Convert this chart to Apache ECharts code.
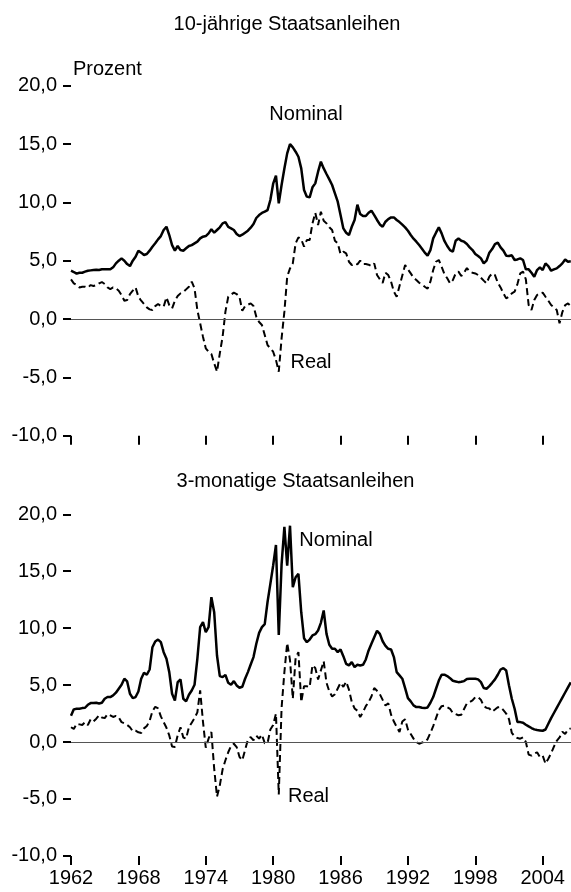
<!DOCTYPE html>
<html>
<head>
<meta charset="utf-8">
<script src="https://cdn.jsdelivr.net/npm/echarts@6/dist/echarts.min.js"></script>
<style>
  html, body { margin: 0; padding: 0; background: #fff; }
  #chart { width: 571px; height: 892px; }
</style>
</head>
<body>
<div id="chart"></div>
<script>
// quarterly samples, first one at 1962.0
const startYear = 1962
const tickYears = [1962, 1968, 1974, 1980, 1986, 1992, 1998, 2004]

// 10-jährige Staatsanleihen, nominal
const nominal10 = [
  4.14, 4.03, 3.89, 3.97,  3.97, 4.06, 4.14, 4.17,  4.2, 4.23, 4.2, 4.26,  4.26, 4.26, 4.26, 4.43,
  4.77, 5.0, 5.2, 5.0,  4.71, 4.54, 5.0, 5.34,  5.86, 5.69, 5.49, 5.57,  5.86, 6.2, 6.49, 6.83,
  7.11, 7.63, 7.91, 7.2,  6.34, 5.86, 6.26, 5.91,  5.86, 6.06, 6.26, 6.34,  6.49, 6.63, 6.91, 7.06,
  7.11, 7.34, 7.69, 7.4,  7.63, 7.86, 8.2, 8.3,  7.89, 7.77, 7.63, 7.29,  7.11, 7.23, 7.4, 7.57,
  7.83, 8.14, 8.66, 8.91,  9.09, 9.2, 9.34, 10.2,  11.6, 12.3, 9.91, 11.49,  12.91, 14.2, 15.0, 14.71,
  14.34, 13.91, 12.91, 11.06,  10.49, 10.43, 11.29, 11.63,  12.63, 13.49, 12.91, 12.43,  11.97, 11.49, 10.77, 10.06,
  8.91, 7.77, 7.4, 7.2,  7.91, 8.49, 9.8, 9.0,  8.83, 8.83, 9.11, 9.29,  8.91, 8.49, 8.11, 7.91,
  8.34, 8.57, 8.71, 8.71,  8.49, 8.31, 8.09, 7.86,  7.57, 7.2, 6.89, 6.63,  6.34, 6.03, 5.69, 5.43,
  5.91, 6.91, 7.4, 7.86,  7.34, 6.69, 6.26, 5.91,  5.77, 6.71, 6.91, 6.71,  6.63, 6.43, 6.14, 5.91,
  5.57, 5.4, 5.2, 4.77,  5.0, 5.69, 6.0, 6.43,  6.55, 6.14, 5.86, 5.43,  5.4, 5.46, 5.06, 5.11,
  5.2, 5.06, 4.26, 4.26,  3.97, 3.63, 4.2, 4.43,  4.2, 4.77, 4.54, 4.14,  4.26, 4.34, 4.54, 4.77,
  5.11, 4.91, 4.95
]

// 10-jährige Staatsanleihen, real
const real10 = [
  3.4, 3.06, 2.91, 2.71,  2.77, 2.77, 2.69, 2.91,  2.83, 2.91, 3.06, 3.17,  3.0, 2.71, 2.57, 2.71,
  2.63, 2.43, 2.06, 1.57,  1.63, 2.14, 2.43, 2.71,  1.91, 1.57, 1.29, 1.0,  0.83, 0.77, 1.11, 1.29,
  1.11, 1.06, 1.86, 1.2,  0.91, 1.57, 1.97, 2.2,  2.31, 2.54, 2.77, 3.2,  2.63, 0.77, -0.37, -1.51,
  -2.51, -2.8, -3.0, -3.8,  -4.51, -2.94, -1.51, 0.63,  1.91, 2.09, 2.26, 2.14,  1.91, 0.71, 1.11, 1.23,
  1.34, 1.11, 0.2, -0.26,  -0.51, -1.37, -2.23, -2.51,  -2.8, -3.51, -4.51, -1.66,  0.63, 3.63, 4.34, 4.77,
  6.49, 7.0, 6.83, 6.2,  6.77, 6.77, 8.2, 9.11,  8.06, 9.2, 8.43, 8.2,  7.86, 7.63, 6.71, 6.49,
  5.57, 5.77, 5.63, 4.91,  4.63, 4.77, 4.69, 5.0,  4.71, 4.71, 4.66, 4.54,  4.77, 3.77, 3.4, 3.1,
  3.97, 3.77, 3.2, 2.34,  1.91, 2.83, 3.74, 4.63,  4.26, 3.91, 3.54, 3.34,  3.11, 2.97, 2.77, 2.6,
  3.2, 4.2, 4.91, 5.06,  4.49, 3.86, 3.49, 3.06,  3.34, 3.91, 4.06, 3.69,  3.97, 4.37, 4.06, 3.97,
  3.91, 3.77, 3.54, 3.29,  3.06, 3.63, 3.91, 3.77,  3.11, 2.71, 2.2, 1.77,  1.91, 2.2, 2.34, 3.0,
  3.91, 4.06, 3.4, 1.2,  0.77, 1.63, 2.06, 2.2,  2.26, 1.91, 1.57, 1.2,  1.0, 0.77, -0.37, 0.6,
  1.2, 1.34, 1.1
]

// 3-monatige Staatsanleihen, nominal
const nominal3m = [
  2.3, 2.87, 2.92, 2.92,  2.98, 3.01, 3.27, 3.42,  3.42, 3.45, 3.39, 3.45,  3.8, 3.95, 3.95, 4.09,
  4.33, 4.68, 5.03, 5.56,  5.32, 4.24, 3.86, 3.95,  4.44, 5.56, 6.08, 5.91,  6.37, 8.33, 8.83, 9.0,
  8.77, 7.89, 7.31, 6.14,  4.24, 3.65, 5.26, 5.5,  3.8, 3.57, 4.15, 4.53,  5.03, 7.31, 10.09, 10.53,
  9.65, 10.09, 12.72, 11.4,  7.6, 5.79, 5.7, 5.9,  5.2, 5.03, 5.35, 4.97,  4.77, 4.85, 5.56, 6.14,
  6.81, 7.46, 8.63, 9.59,  10.09, 10.35, 12.3, 13.89,  15.5, 17.3, 9.4, 15.6,  18.9, 15.5, 19.0, 13.6,
  14.47, 14.77, 11.4, 9.12,  8.77, 9.0, 9.36, 9.47,  9.8, 10.47, 11.55, 9.5,  8.54, 8.19, 8.19, 7.9,
  8.13, 7.54, 6.87, 6.73,  7.02, 6.58, 6.78, 6.73,  6.78, 7.25, 8.04, 8.63,  9.2, 9.77, 9.5, 8.85,
  8.45, 8.19, 8.13, 7.46,  6.14, 5.85, 5.56, 4.74,  3.86, 3.57, 3.22, 3.07,  3.07, 3.01, 2.98, 3.04,
  3.45, 3.95, 4.68, 5.4,  5.91, 5.91, 5.79, 5.61,  5.38, 5.32, 5.26, 5.29,  5.35, 5.53, 5.56, 5.56,
  5.56, 5.5, 5.26, 4.74,  4.68, 4.91, 5.2, 5.5,  5.91, 6.37, 6.49, 6.29,  4.97, 3.8, 2.92, 1.75,
  1.75, 1.7, 1.52, 1.37,  1.23, 1.11, 1.05, 1.02,  0.99, 1.1, 1.6, 2.1,  2.55, 3.0, 3.45, 3.9,
  4.35, 4.8, 5.25
]

// 3-monatige Staatsanleihen, real
const real3m = [
  1.3, 1.15, 1.6, 1.55,  1.5, 1.75, 1.5, 2.0,  1.81, 2.05, 2.35, 2.15,  2.1, 2.45, 2.34, 2.2,
  2.3, 2.15, 1.75, 1.65,  1.5, 1.3, 0.95, 1.0,  0.85, 0.8, 1.2, 1.4,  1.85, 2.7, 3.1, 2.95,
  2.25, 1.75, 1.25, 0.58,  -0.4, -0.44, 0.6, 1.3,  0.4, 0.3, 1.3, 1.7,  2.1, 2.6, 4.53, 1.8,
  -0.5, 0.3, 0.88, -2.34,  -4.8, -3.8, -2.4, -1.6,  -0.9, -0.35, -0.15, -0.44,  -1.3, -1.6, -0.7, 0.2,
  0.44, 0.15, 0.55, 0.3,  0.65, -0.1, -0.1, 1.1,  1.5, 2.5, -4.6, 3.0,  6.14, 8.7, 7.2, 3.8,
  7.4, 7.9, 3.51, 4.9,  4.9, 4.82, 6.75, 6.5,  5.5, 6.29, 7.1, 5.2,  4.45, 4.0, 4.2, 4.7,
  5.2, 4.85, 5.3, 4.6,  3.51, 2.95, 2.75, 2.19,  2.63, 3.15, 3.51, 4.0,  4.74, 4.5, 4.2, 3.7,
  3.2, 3.4, 2.4, 1.8,  1.32, 0.88, 1.8, 2.0,  1.1, 0.7, 0.3, 0.0,  -0.15, -0.05, 0.0, 0.25,
  0.8, 1.4, 2.1, 2.8,  3.15, 3.2, 3.05, 2.92,  2.55, 2.45, 2.35, 2.4,  2.9, 3.4, 3.5, 3.65,
  3.95, 3.95, 3.7, 3.15,  3.0, 2.95, 2.66, 2.85,  3.05, 3.07, 2.8, 2.5,  2.0, 0.8, 0.5, 0.35,
  0.29, 0.42, 0.0, -1.1,  -1.2, -1.02, -0.9, -1.32,  -1.2, -1.9, -1.46, -1.0,  -0.4, 0.1, 0.4, 0.9,
  0.7, 1.1, 1.2
]

const font = 'Liberation Sans, Arial, sans-serif'

function toPoints(values) {
  return values.map((v, i) => [startYear + i / 4, v])
}

const chart = echarts.init(document.getElementById('chart'), null, { renderer: 'canvas' })

function xAxisFor(index, withLabels) {
  return {
    type: 'value',
    gridIndex: index,
    min: 1962,
    max: 2006.52,
    axisLine: { show: false, onZero: false },
    axisTick: {
      show: true,
      customValues: tickYears,
      length: 9,
      lineStyle: { color: '#000', width: 2 }
    },
    axisLabel: {
      show: withLabels,
      customValues: tickYears,
      margin: 13,
      color: '#000',
      fontSize: 20,
      fontFamily: font,
      formatter: v => String(v)
    },
    splitLine: { show: false }
  }
}

function yAxisFor(index) {
  return {
    type: 'value',
    gridIndex: index,
    min: -10,
    max: 20,
    interval: 5,
    axisLine: { show: false },
    axisTick: { show: true, length: 8, lineStyle: { color: '#000', width: 2 } },
    axisLabel: {
      margin: 14,
      color: '#000',
      fontSize: 20,
      fontFamily: font,
      formatter: v => v.toFixed(1).replace('.', ',')
    },
    splitLine: { show: false }
  }
}

const zeroLine = {
  silent: true,
  symbol: 'none',
  label: { show: false },
  lineStyle: { color: '#555', width: 1, type: 'solid' },
  data: [{ yAxis: 0 }]
}

function lineSeries(index, values, dashed) {
  return {
    type: 'line',
    xAxisIndex: index,
    yAxisIndex: index,
    data: toPoints(values),
    showSymbol: false,
    symbol: 'none',
    lineStyle: dashed
      ? { color: '#000', width: 2, type: [7, 4] }
      : { color: '#000', width: 2.5 },
    markLine: dashed ? undefined : zeroLine,
    z: dashed ? 2 : 3
  }
}

function text(str, x, y, align) {
  return {
    type: 'text',
    x: x,
    y: y,
    style: {
      text: str,
      font: '20px ' + font,
      fill: '#000',
      textAlign: align || 'center',
      textVerticalAlign: 'middle'
    }
  }
}

const options = {
  backgroundColor: '#fff',
  animation: false,
  grid: [
    { left: 71, right: 0, top: 85.7, height: 350 },
    { left: 71, right: 0, top: 514.3, height: 341.6 }
  ],
  xAxis: [xAxisFor(0, false), xAxisFor(1, true)],
  yAxis: [yAxisFor(0), yAxisFor(1)],
  series: [
    lineSeries(0, nominal10, false),
    lineSeries(0, real10, true),
    lineSeries(1, nominal3m, false),
    lineSeries(1, real3m, true)
  ],
  graphic: [
    text('10-jährige Staatsanleihen', 287, 24),
    text('Prozent', 73, 69, 'left'),
    text('Nominal', 306, 114),
    text('Real', 311, 362),
    text('3-monatige Staatsanleihen', 295.5, 481),
    text('Nominal', 336, 540),
    text('Real', 308.5, 796)
  ]
}

chart.setOption(options)
</script>
</body>
</html>
